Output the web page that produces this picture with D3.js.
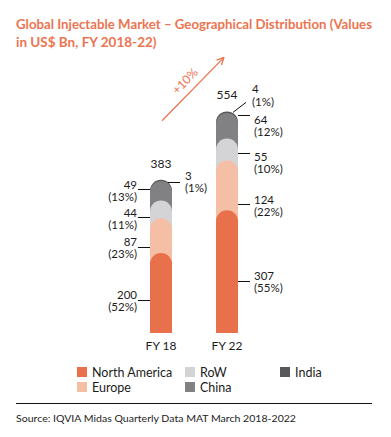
<!DOCTYPE html>
<html><head><meta charset="utf-8">
<script src="https://cdn.jsdelivr.net/npm/d3@7"></script>
<style>
html,body{margin:0;padding:0;background:#fff;}
svg{display:block;font-family:Lato,"Open Sans",sans-serif;}
</style></head>
<body><svg id="c" width="391" height="437"></svg>
<script>
const years = ["FY 18", "FY 22"];
const series = ["North America", "Europe", "RoW", "China", "India"];
const fy18 = [200, 87, 44, 49, 3];
const fy22 = [307, 124, 55, 64, 4];
const pct18 = ["52%", "23%", "11%", "13%", "1%"];
const pct22 = ["55%", "22%", "10%", "12%", "1%"];
const totals = [383, 554];
const growth = "+10%";
const colors = ["#E8704A", "#F5BFA5", "#D4D4D6", "#818184", "#58585A"];
const legendOrder = ["North America", "Europe", "RoW", "China", "India"];

const svg = d3.select("#c");
const orange = "#EC7450";
const ink = "#1c1c1c";
const fs = 11.5, lh = 12.5;

// title
svg.append("text").attr("x", 16).attr("y", 29).attr("fill", orange)
  .attr("font-size", 13.5).attr("font-weight", 700)
  .attr("textLength", 356).attr("lengthAdjust", "spacingAndGlyphs")
  .text("Global Injectable Market \u2013 Geographical Distribution (Values");
svg.append("text").attr("x", 16).attr("y", 47).attr("fill", orange)
  .attr("font-size", 13.5).attr("font-weight", 700)
  .text("in US$ Bn, FY 2018-22)");

const x = d3.scalePoint().domain(years).range([161, 227]);
const y = d3.scaleLinear().domain([0, 554]).range([333, 111.4]);
const bw = 22, r = bw / 2;

const data = [fy18, fy22];
const pcts = [pct18, pct22];

function pill(cx, yTop, yBot) {
  const x0 = cx - r, x1 = cx + r;
  return `M${x0},${yBot}L${x0},${yTop + r}A${r},${r} 0 0 1 ${x1},${yTop + r}L${x1},${yBot}Z`;
}

years.forEach((yr, i) => {
  const vals = data[i];
  const cum = d3.cumsum(vals);
  const cx = x(yr);
  const g = svg.append("g");
  for (let k = vals.length - 1; k >= 0; k--) {
    g.append("path").attr("d", pill(cx, y(cum[k]), y(0))).attr("fill", colors[k]);
  }
  svg.append("text").attr("x", cx).attr("y", y(totals[i]) - 12)
    .attr("text-anchor", "middle").attr("font-size", 12).attr("fill", ink)
    .text(totals[i]);
  svg.append("text").attr("x", cx).attr("y", 350)
    .attr("text-anchor", "middle").attr("font-size", 12).attr("fill", ink)
    .text(yr);
});

// leader line position (fraction within segment) and text baseline shift
const layout = [
  [{f: 0.41, dt: -2}, {f: 0.17, dt: -2}, {f: 0.07, dt: -1}, {f: 0.59, dt: -1}],
  [{f: 0.42, dt: -2}, {f: 0.125, dt: -1}, {f: 0.35, dt: 7}, {f: 0.92, dt: 8}]
];

function twoLine(tx, ty, a, b, anchor) {
  const t = svg.append("text").attr("x", tx).attr("y", ty)
    .attr("text-anchor", anchor).attr("font-size", fs).attr("fill", ink);
  t.append("tspan").attr("x", tx).text(a);
  t.append("tspan").attr("x", tx).attr("dy", lh).text(b);
}

years.forEach((yr, i) => {
  const vals = data[i];
  const cum = d3.cumsum(vals);
  const cx = x(yr);
  const left = i === 0;
  for (let k = 0; k < 4; k++) {
    const base = k === 0 ? 0 : cum[k - 1];
    const ly = Math.round(y(base + vals[k] * layout[i][k].f)) + 0.5;
    const xa = left ? cx - r - 12 : cx + r;
    const xb = left ? cx - r : cx + r + 12;
    svg.append("line").attr("x1", xa).attr("x2", xb).attr("y1", ly).attr("y2", ly)
      .attr("stroke", "#111").attr("stroke-width", 1);
    const tx = left ? cx - r - 13 : cx + r + 16;
    twoLine(tx, ly + layout[i][k].dt, vals[k], "(" + pcts[i][k] + ")", left ? "end" : "start");
  }
  const topY = y(cum[4]);
  if (left) {
    const ly = Math.round(topY + 2) + 0.5;
    svg.append("line").attr("x1", cx + 7).attr("x2", cx + 19).attr("y1", ly).attr("y2", ly)
      .attr("stroke", "#111");
    twoLine(cx + 24, topY, vals[4], "(" + pcts[i][4] + ")", "start");
  } else {
    svg.append("line").attr("x1", cx + 6).attr("y1", topY + 1).attr("x2", cx + 19).attr("y2", topY - 9)
      .attr("stroke", "#111");
    twoLine(cx + 25, topY - 18, vals[4], "(" + pcts[i][4] + ")", "start");
  }
});

// growth arrow
const ax0 = x(years[0]) + 1, ay0 = y(totals[0]) - 59;
const ax1 = x(years[1]) - 3, ay1 = y(totals[1]) - 54;
svg.append("line").attr("x1", ax0).attr("y1", ay0).attr("x2", ax1).attr("y2", ay1)
  .attr("stroke", orange).attr("stroke-width", 1.3);
const ang = Math.atan2(ay1 - ay0, ax1 - ax0);
const hl = 8;
[ang + Math.PI - 0.45, ang + Math.PI + 0.45].forEach(a => {
  svg.append("line").attr("x1", ax1).attr("y1", ay1)
    .attr("x2", ax1 + hl * Math.cos(a)).attr("y2", ay1 + hl * Math.sin(a))
    .attr("stroke", orange).attr("stroke-width", 1.3);
});
const mx = (ax0 + ax1) / 2 - 5, my = (ay0 + ay1) / 2 - 5;
svg.append("text").attr("transform", `translate(${mx},${my}) rotate(${ang * 180 / Math.PI})`)
  .attr("text-anchor", "middle").attr("font-size", 12).attr("fill", orange)
  .text(growth);

// legend
const legPos = {"North America": [77, 367], "Europe": [77, 382], "RoW": [185, 367], "China": [185, 382], "India": [280, 367]};
legendOrder.forEach(name => {
  const k = series.indexOf(name);
  const [lx, ly] = legPos[name];
  svg.append("rect").attr("x", lx).attr("y", ly).attr("width", 10).attr("height", 10).attr("fill", colors[k]);
  svg.append("text").attr("x", lx + 15).attr("y", ly + 9.5).attr("font-size", 12.5).attr("fill", ink).text(name);
});

svg.append("line").attr("x1", 16).attr("x2", 372).attr("y1", 403.5).attr("y2", 403.5)
  .attr("stroke", "#111").attr("stroke-width", 1);
svg.append("text").attr("x", 16).attr("y", 422).attr("font-size", 10).attr("fill", ink)
  .attr("textLength", 280).attr("lengthAdjust", "spacingAndGlyphs")
  .text("Source: IQVIA Midas Quarterly Data MAT March 2018-2022");
</script></body></html>
